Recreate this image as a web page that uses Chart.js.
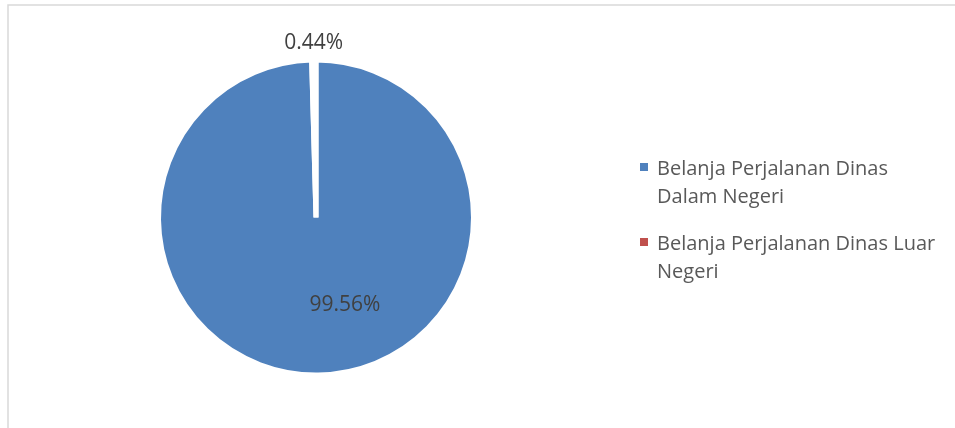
<!DOCTYPE html>
<html>
<head>
<meta charset="utf-8">
<script src="https://cdn.jsdelivr.net/npm/chart.js@4.4.1/dist/chart.umd.min.js"></script>
<style>
  html, body { margin: 0; padding: 0; background: #fff; }
  #wrap { position: relative; width: 955px; height: 428px; }
</style>
</head>
<body>
<div id="wrap"><canvas id="pieChart" width="955" height="428"></canvas></div>
<script>
// --- Data ---
const categories = [
    ['Belanja Perjalanan Dinas', 'Dalam Negeri'],
    ['Belanja Perjalanan Dinas Luar', 'Negeri']
];
const shares = [99.56, 0.44];
const sliceColors = ['#4f81bd', '#c0504d'];

// where each percentage label sits: angle from 12 o'clock (clockwise) and radius factor
const labelPlacement = [
    { angle: 161.7, r: 0.595 },
    { angle: null, r: 1.125 }   // null -> middle of the slice
];

const FONT = '"Open Sans", "DejaVu Sans", sans-serif';

// --- Chart frame (left and top border of the chart area) ---
const framePlugin = {
    id: 'frame',
    beforeDraw(chart) {
        const ctx = chart.ctx;
        ctx.save();
        ctx.strokeStyle = '#d9d9d9';
        ctx.lineWidth = 1.5;
        ctx.beginPath();
        ctx.moveTo(8, chart.height + 2);
        ctx.lineTo(8, 5);
        ctx.lineTo(chart.width + 2, 5);
        ctx.stroke();
        ctx.restore();
    }
};

// --- Percentage labels on the slices ---
const pctLabelPlugin = {
    id: 'pctLabels',
    afterDatasetsDraw(chart) {
        const ctx = chart.ctx;
        const arcs = chart.getDatasetMeta(0).data;
        ctx.save();
        ctx.font = '21px ' + FONT;
        ctx.fillStyle = '#404040';
        ctx.textAlign = 'center';
        ctx.textBaseline = 'middle';
        arcs.forEach((arc, i) => {
            const p = arc.getProps(['x', 'y', 'startAngle', 'endAngle', 'outerRadius'], true);
            const place = labelPlacement[i];
            const a = place.angle === null
                ? (p.startAngle + p.endAngle) / 2
                : place.angle * Math.PI / 180 - Math.PI / 2;
            const r = 155 * place.r;
            ctx.fillText(shares[i].toFixed(2) + '%', p.x + Math.cos(a) * r, p.y + Math.sin(a) * r);
        });
        ctx.restore();
    }
};

// --- Legend with wrapped labels ---
const sideLegendPlugin = {
    id: 'sideLegend',
    afterDraw(chart) {
        const ctx = chart.ctx;
        const x = 640, lineH = 28, itemGap = 19, box = 8;
        let y = 175; // first baseline
        ctx.save();
        ctx.font = '20px ' + FONT;
        ctx.textBaseline = 'alphabetic';
        categories.forEach((lines, i) => {
            ctx.fillStyle = sliceColors[i];
            ctx.fillRect(x, y - 12, box, box);
            ctx.fillStyle = '#595959';
            lines.forEach((t, j) => ctx.fillText(t, x + 17, y + j * lineH));
            y += lines.length * lineH + itemGap;
        });
        ctx.restore();
    }
};

new Chart(document.getElementById('pieChart'), {
    type: 'pie',
    data: {
        labels: categories.map(c => c.join(' ')),
        datasets: [{
            data: shares,
            backgroundColor: sliceColors,
            borderColor: '#ffffff',
            borderWidth: 5
        }]
    },
    options: {
        responsive: false,
        animation: false,
        layout: { padding: { left: 156, right: 479, top: 57, bottom: 50 } },
        plugins: {
            legend: { display: false },
            tooltip: { enabled: false }
        }
    },
    plugins: [framePlugin, pctLabelPlugin, sideLegendPlugin]
});
</script>
</body>
</html>
